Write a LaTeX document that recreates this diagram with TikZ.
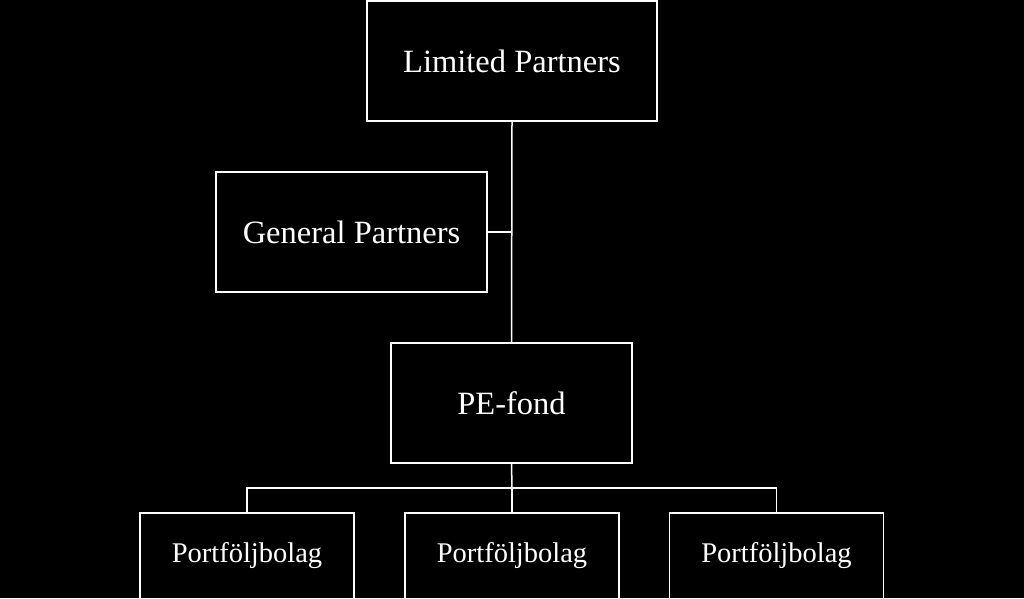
\documentclass[tikz,border=0pt]{standalone}
\usepackage{fontspec}
\setmainfont{Liberation Serif}
\begin{document}
\begin{tikzpicture}[x=1pt,y=-1pt,
  bx/.style={draw=white,line width=1.5pt,text=white,inner sep=0pt},
  big/.style={font=\fontsize{32.5}{38}\selectfont},
  small/.style={font=\fontsize{28.5}{33}\selectfont},
  ln/.style={draw=white,line width=1.5pt}]
\fill[black] (0,0) rectangle (1024,598);
\useasboundingbox (0,0) rectangle (1024,598);
\node[bx,big,minimum width=290pt,minimum height=120pt] (lp) at (512,61) {Limited Partners};
\node[bx,big,minimum width=271pt,minimum height=120pt] (gp) at (351.5,232) {General Partners};
\node[bx,big,minimum width=241pt,minimum height=120pt] (pe) at (511.5,403) {PE-fond};
\node[bx,small,minimum width=214pt,minimum height=86pt] (p1) at (247,556) {Portföljbolag};
\node[bx,small,minimum width=214pt,minimum height=86pt] (p2) at (512,556) {Portföljbolag};
\node[bx,small,minimum width=214pt,minimum height=86pt] (p3) at (776.5,556) {Portföljbolag};
\draw[ln] (lp.south) -- (pe.north);
\draw[ln] (gp.east) -- (gp.east -| lp.south);
\coordinate (j) at (512,488);
\draw[ln] (pe.south) -- (j);
\draw[ln] (p1.north) |- (j) -| (p3.north);
\draw[ln] (j) -- (p2.north);
\end{tikzpicture}
\end{document}
